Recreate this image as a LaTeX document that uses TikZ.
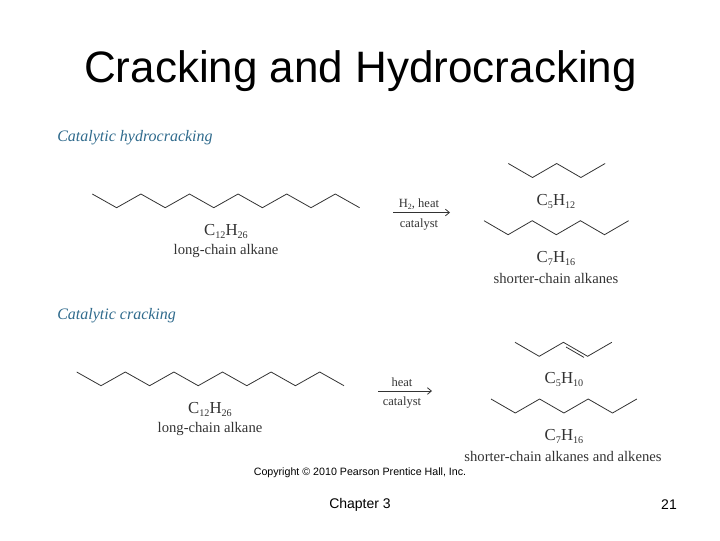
\documentclass[tikz,border=0pt]{standalone}
\usepackage{fontspec}
\setmainfont{Liberation Serif}
\newfontfamily\arialf{Liberation Sans}
\newcommand{\fmla}[4]{#1\raisebox{-0.35ex}{\fontsize{7.6}{8}\selectfont #2}#3\raisebox{-0.35ex}{\fontsize{7.6}{8}\selectfont #4}}
\definecolor{headblue}{HTML}{2F6A8C}
\definecolor{inkgrey}{HTML}{333333}
\tikzset{
  x=0.75pt,y=-0.75pt,
  titletext/.style={font=\arialf\fontsize{33}{36}\selectfont,text=black,inner sep=0},
  headtext/.style={font=\itshape\fontsize{12}{13}\selectfont,text=headblue,anchor=west,inner sep=0},
  labeltext/.style={font=\fontsize{11}{12}\selectfont,text=inkgrey,inner sep=0},
  smalltext/.style={font=\fontsize{9.4}{10}\selectfont,text=inkgrey,inner sep=0},
  formula/.style={font=\fontsize{12.6}{13}\selectfont,text=inkgrey,inner sep=0},
  foot/.style={font=\arialf\fontsize{10.5}{12}\selectfont,text=black,inner sep=0},
  copyr/.style={font=\arialf\fontsize{8}{9}\selectfont,text=black,inner sep=0},
  bond/.style={draw=inkgrey,line width=0.6pt,line join=miter},
  rxn/.style={draw=inkgrey,line width=0.6pt,-{Straight Barb[length=3pt,width=5pt]}},
}
\usetikzlibrary{arrows.meta}
\begin{document}
\begin{tikzpicture}
\useasboundingbox (0,0) rectangle (720,540);
\node[titletext] (title) at (360.5,71) {Cracking and Hydrocracking};
\node[headtext] (h1) at (57,137.5) {Catalytic hydrocracking};
\node[headtext] (h2) at (57,315.5) {Catalytic cracking};
% long chains
\draw[bond] (92.3,194) -- ++(24.3,13.7) -- ++(24.3,-13.7) -- ++(24.3,13.7) -- ++(24.3,-13.7) -- ++(24.3,13.7) -- ++(24.3,-13.7) -- ++(24.3,13.7) -- ++(24.3,-13.7) -- ++(24.3,13.7) -- ++(24.3,-13.7) -- ++(24.3,13.7);
\draw[bond] (76.7,372) -- ++(24.3,13.7) -- ++(24.3,-13.7) -- ++(24.3,13.7) -- ++(24.3,-13.7) -- ++(24.3,13.7) -- ++(24.3,-13.7) -- ++(24.3,13.7) -- ++(24.3,-13.7) -- ++(24.3,13.7) -- ++(24.3,-13.7) -- ++(24.3,13.7);
% upper products
\draw[bond] (508.3,163.5) -- ++(24.2,14) -- ++(24.2,-14) -- ++(24.2,14) -- ++(24.2,-14);
\draw[bond] (484,220.7) -- ++(24.1,14) -- ++(24.1,-14) -- ++(24.1,14) -- ++(24.1,-14) -- ++(24.1,14) -- ++(24.1,-14);
% lower products
\draw[bond] (515,342.3) -- ++(24.2,14) -- ++(24.2,-14) -- ++(24.2,14) -- ++(24.2,-14);
\draw[bond] (566,347) -- (584,357.4);
\draw[bond] (491,399) -- ++(24.3,14) -- ++(24.3,-14) -- ++(24.3,14) -- ++(24.3,-14) -- ++(24.3,14) -- ++(24.3,-14);
% formulas
\node[formula] (f1) at (226,231.5) {\fmla{C}{12}{H}{26}};
\node[labeltext] (l1) at (226,250.5) {long-chain alkane};
\node[formula] (f2) at (210,409.5) {\fmla{C}{12}{H}{26}};
\node[labeltext] (l2) at (210,429) {long-chain alkane};
\node[formula] (f3) at (556,201.5) {\fmla{C}{5}{H}{12}};
\node[formula] (f4) at (556,258.5) {\fmla{C}{7}{H}{16}};
\node[labeltext] (l3) at (556,278) {shorter-chain alkanes};
\node[formula] (f5) at (564,379.5) {\fmla{C}{5}{H}{10}};
\node[formula] (f6) at (564,436.5) {\fmla{C}{7}{H}{16}};
\node[labeltext] (l4) at (563,456.5) {shorter-chain alkanes and alkenes};
% arrows
\coordinate (a1s) at (393,212.5);
\coordinate (a1e) at (450,212.5);
\coordinate (a2s) at (378,391);
\coordinate (a2e) at (432,391);
\draw[rxn] (a1s) -- (a1e);
\draw[rxn] (a2s) -- (a2e);
\node[smalltext] (c1) at (419,204.5) {H\raisebox{-0.3ex}{\fontsize{6}{6}\selectfont 2}, heat};
\node[smalltext] (c2) at (419,224.5) {catalyst};
\node[smalltext] (c3) at (402,382.5) {heat};
\node[smalltext] (c4) at (402,402.5) {catalyst};
\node[copyr] (cp) at (360,472.3) {Copyright © 2010 Pearson Prentice Hall, Inc.};
\node[foot] (ch) at (360,504.5) {Chapter 3};
\node[foot] (pg) at (669,504.5) {21};
\end{tikzpicture}
\end{document}
